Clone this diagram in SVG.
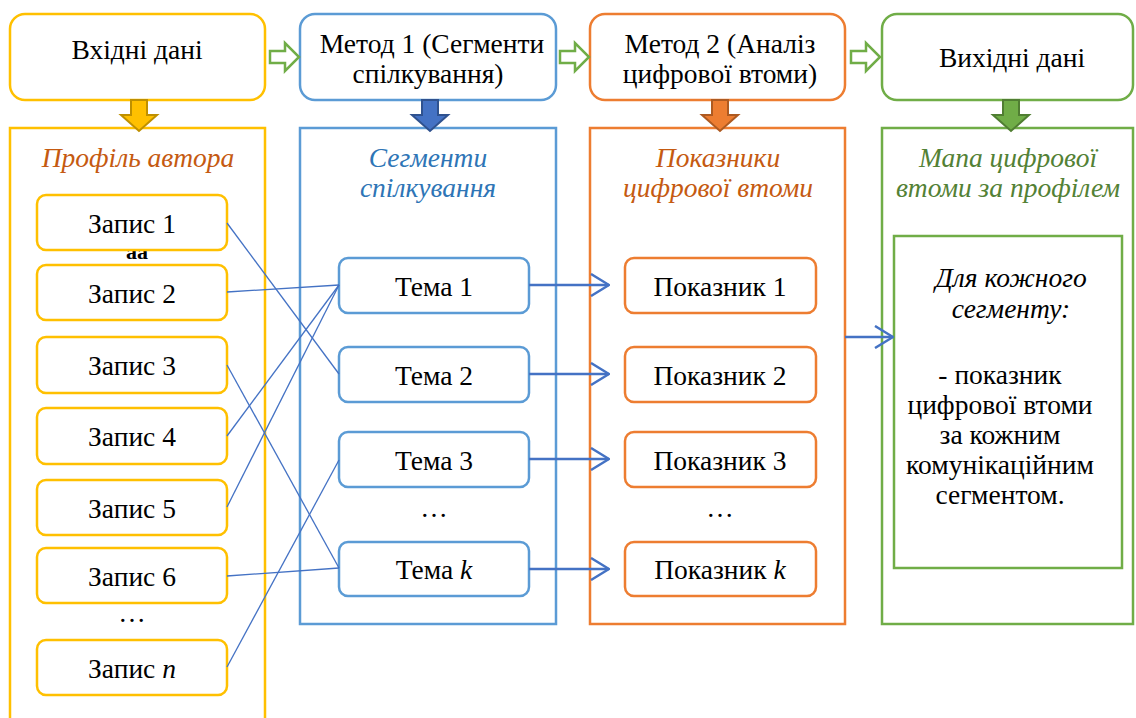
<svg xmlns="http://www.w3.org/2000/svg" width="1136" height="718" viewBox="0 0 1136 718" font-family="'Liberation Serif', 'Times New Roman', 'DejaVu Serif', serif">
  <style>
    text { font-family: "Liberation Serif", "Times New Roman", "DejaVu Serif", serif; font-size: 27.5px; fill: #000; text-anchor: middle; }
    .it { font-style: italic; }
    .hdr { font-style: italic; }
    .box { fill: #fff; stroke-width: 2.5; }
    .col { fill: #fff; stroke-width: 2.5; }
    .y { stroke: #FFC000; }
    .b { stroke: #5B9BD5; }
    .o { stroke: #ED7D31; }
    .g { stroke: #70AD47; }
    .link { stroke: #4472C4; stroke-width: 1.3; fill: none; }
    .flow { stroke: #4472C4; stroke-width: 2.5; fill: none; marker-end: url(#open); }
    .step { fill: #fff; stroke: #70AD47; stroke-width: 2.5; stroke-linejoin: miter; }
  </style>
  <defs>
    <marker id="open" viewBox="0 0 20 24" refX="19" refY="12" markerWidth="20" markerHeight="24" markerUnits="userSpaceOnUse" orient="auto">
      <path d="M1,1 L19,12 L1,23" fill="none" stroke="#4472C4" stroke-width="2.5"/>
    </marker>
    <path id="down" d="M-8,0 L8,0 L8,15 L18,15 L0,31 L-18,15 L-8,15 Z"/>
    <path id="right" d="M0,-6 L15,-6 L15,-14 L29,0 L15,14 L15,6 L0,6 Z"/>
  </defs>

  <!-- columns -->
  <g id="col-profile">
    <path class="col y" d="M10,730 L10,128 L265,128 L265,730"/>
    <text class="hdr" x="138" y="167" style="fill:#C55A11">Профіль автора</text>
  </g>
  <g id="col-segments">
    <rect class="col b" x="300" y="128" width="256" height="496"/>
    <text class="hdr" x="428" y="167" style="fill:#2E75B6">Сегменти</text>
    <text class="hdr" x="428" y="197" style="fill:#2E75B6">спілкування</text>
  </g>
  <g id="col-fatigue">
    <rect class="col o" x="590" y="128" width="255" height="496"/>
    <text class="hdr" x="718" y="167" style="fill:#C55A11">Показники</text>
    <text class="hdr" x="718" y="197" style="fill:#C55A11">цифрової втоми</text>
  </g>
  <g id="col-map">
    <rect class="col g" x="882" y="128" width="251" height="496"/>
    <text class="hdr" x="1008" y="167" style="fill:#538135">Мапа цифрової</text>
    <text class="hdr" x="1008" y="197" style="fill:#538135">втоми за профілем</text>
  </g>

  <!-- top process steps -->
  <g id="step-input">
    <rect class="box y" x="10" y="14" width="255" height="86" rx="15"/>
    <text x="137" y="59">Вхідні дані</text>
  </g>
  <g id="step-method1">
    <rect class="box b" x="300" y="14" width="256" height="86" rx="15"/>
    <text x="432" y="53">Метод 1 (Сегменти</text>
    <text x="428" y="83">спілкування)</text>
  </g>
  <g id="step-method2">
    <rect class="box o" x="590" y="14" width="255" height="86" rx="15"/>
    <text x="720" y="53">Метод 2 (Аналіз</text>
    <text x="720" y="83">цифрової втоми)</text>
  </g>
  <g id="step-output">
    <rect class="box g" x="882" y="14" width="251" height="86" rx="15"/>
    <text x="1012" y="67">Вихідні дані</text>
  </g>

  <!-- block arrows between and below the steps -->
  <g id="step-arrows">
    <use href="#right" class="step" x="270" y="57"/>
    <use href="#right" class="step" x="560" y="57"/>
    <use href="#right" class="step" x="851" y="57"/>
    <use href="#down" x="139" y="100" style="fill:#FFC000;stroke:#BF9000;stroke-width:2"/>
    <use href="#down" x="430" y="100" style="fill:#4472C4;stroke:#2F528F;stroke-width:2"/>
    <use href="#down" x="720" y="100" style="fill:#ED7D31;stroke:#AE5A21;stroke-width:2"/>
    <use href="#down" x="1011" y="100" style="fill:#70AD47;stroke:#507E32;stroke-width:2"/>
  </g>

  <!-- records -->
  <text x="137" y="259" style="font-size:22px;font-weight:bold">аа</text>
  <g id="record-1"><rect class="box y" x="37" y="195" width="190" height="55" rx="9"/><text x="132" y="233">Запис 1</text></g>
  <g id="record-2"><rect class="box y" x="37" y="265" width="190" height="55" rx="9"/><text x="132" y="303">Запис 2</text></g>
  <g id="record-3"><rect class="box y" x="37" y="337" width="190" height="56" rx="9"/><text x="132" y="375">Запис 3</text></g>
  <g id="record-4"><rect class="box y" x="37" y="408" width="190" height="56" rx="9"/><text x="132" y="446">Запис 4</text></g>
  <g id="record-5"><rect class="box y" x="37" y="480" width="190" height="55" rx="9"/><text x="132" y="518">Запис 5</text></g>
  <g id="record-6"><rect class="box y" x="37" y="548" width="190" height="55" rx="9"/><text x="132" y="586">Запис 6</text></g>
  <text x="132" y="622">…</text>
  <g id="record-n"><rect class="box y" x="37" y="640" width="190" height="55" rx="9"/><text x="132" y="678">Запис <tspan class="it">n</tspan></text></g>

  <!-- topics -->
  <g id="topic-1"><rect class="box b" x="339" y="258" width="190" height="55" rx="9"/><text x="434" y="296">Тема 1</text></g>
  <g id="topic-2"><rect class="box b" x="339" y="347" width="190" height="55" rx="9"/><text x="434" y="385">Тема 2</text></g>
  <g id="topic-3"><rect class="box b" x="339" y="432" width="190" height="55" rx="9"/><text x="434" y="470">Тема 3</text></g>
  <text x="434" y="517">…</text>
  <g id="topic-k"><rect class="box b" x="339" y="542" width="190" height="54" rx="9"/><text x="434" y="579">Тема <tspan class="it">k</tspan></text></g>

  <!-- fatigue indicators -->
  <g id="indicator-1"><rect class="box o" x="625" y="258" width="191" height="55" rx="9"/><text x="720" y="296">Показник 1</text></g>
  <g id="indicator-2"><rect class="box o" x="625" y="347" width="191" height="55" rx="9"/><text x="720" y="385">Показник 2</text></g>
  <g id="indicator-3"><rect class="box o" x="625" y="432" width="191" height="55" rx="9"/><text x="720" y="470">Показник 3</text></g>
  <text x="720" y="517">…</text>
  <g id="indicator-k"><rect class="box o" x="625" y="542" width="191" height="54" rx="9"/><text x="720" y="579">Показник <tspan class="it">k</tspan></text></g>

  <!-- fatigue map per segment -->
  <g id="fatigue-map">
    <rect class="col g" x="894" y="236" width="228" height="332"/>
    <text class="it" x="1011" y="287">Для кожного</text>
    <text class="it" x="1011" y="318">сегменту:</text>
    <text x="1000" y="384">- показник</text>
    <text x="1000" y="414">цифрової втоми</text>
    <text x="1000" y="444">за кожним</text>
    <text x="1000" y="474">комунікаційним</text>
    <text x="1000" y="504">сегментом.</text>
  </g>

  <!-- connectors -->
  <g id="connectors">
    <line class="link" x1="227" y1="223" x2="339" y2="374"/>
    <line class="link" x1="227" y1="292" x2="339" y2="285"/>
    <line class="link" x1="227" y1="365" x2="339" y2="568"/>
    <line class="link" x1="227" y1="436" x2="339" y2="285"/>
    <line class="link" x1="227" y1="507" x2="339" y2="285"/>
    <line class="link" x1="227" y1="576" x2="339" y2="568"/>
    <line class="link" x1="227" y1="667" x2="339" y2="460"/>
    <line class="flow" x1="529" y1="285" x2="609" y2="285"/>
    <line class="flow" x1="529" y1="374" x2="609" y2="374"/>
    <line class="flow" x1="529" y1="459" x2="609" y2="459"/>
    <line class="flow" x1="529" y1="569" x2="609" y2="569"/>
    <line class="flow" x1="845" y1="337" x2="893" y2="337"/>
  </g>
</svg>
